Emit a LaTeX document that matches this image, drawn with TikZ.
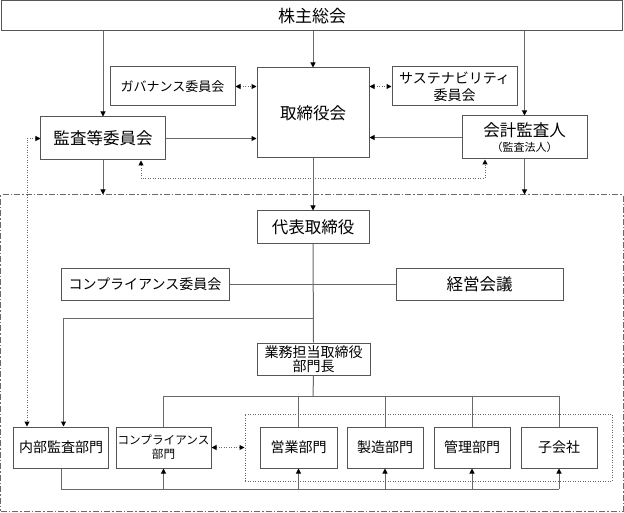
\documentclass[tikz,border=0pt]{standalone}
\usepackage{fontspec}
\setmainfont{Noto Sans CJK JP}
\usetikzlibrary{arrows.meta}
\definecolor{linecol}{RGB}{105,105,105}
\definecolor{boxcol}{RGB}{85,85,85}
\newcommand\fsL{\fontsize{16.5bp}{19bp}\selectfont}
\newcommand\fsM{\fontsize{14bp}{16bp}\selectfont}
\newcommand\fsS{\fontsize{11bp}{13bp}\selectfont}
\tikzset{
  box/.style={draw=boxcol, line width=1bp, fill=white, inner sep=0pt, align=center},
  ln/.style={draw=linecol, line width=1bp},
  arr/.style={ln, -{Triangle[length=5bp,width=5bp,color=black]}},
  dotln/.style={draw=linecol, line width=1bp, dash pattern=on 1bp off 1.5bp},
  dbarr/.style={dotln, {Triangle[length=5bp,width=5bp,color=black]}-{Triangle[length=5bp,width=5bp,color=black]}},
  dashdot/.style={draw=linecol, line width=1bp, dash pattern=on 6bp off 2bp on 1.5bp off 2bp},
}
\begin{document}
\begin{tikzpicture}[x=1bp,y=-1bp]
\useasboundingbox (0,0) rectangle (624,513);
% executive area (dash-dot)
\node[dashdot, minimum width=622bp, minimum height=316bp, inner sep=0pt] (exec) at (312,353) {};
% top
\node[box, minimum width=620bp, minimum height=30bp, font=\fontsize{17bp}{19bp}\selectfont] (kabu) at (312,16) {株主総会};
\node[box, minimum width=125bp, minimum height=39bp, font=\fontsize{13bp}{15bp}\selectfont] (gov) at (172.5,86.5) {ガバナンス委員会};
\node[box, minimum width=112bp, minimum height=90bp, font=\fsL] (tori) at (313,113) {取締役会};
\node[box, minimum width=125bp, minimum height=39bp, font=\fontsize{14bp}{17bp}\selectfont] (sus) at (454.5,86.5) {サステナビリティ\\委員会};
\node[box, minimum width=124bp, minimum height=43bp, font=\fsL] (kansa) at (103,138.5) {監査等委員会};
\node[box, minimum width=125bp, minimum height=43bp, font=\fontsize{16.5bp}{15.5bp}\selectfont] (kaikei) at (524.5,137.5) {会計監査人\\{\fsS （監査法人）}};
% executive
\node[box, minimum width=112bp, minimum height=32bp, font=\fsL] (daihyo) at (313,227) {代表取締役};
\node[box, minimum width=168bp, minimum height=32bp, font=\fsM] (comp) at (145,284) {コンプライアンス委員会};
\node[box, minimum width=167bp, minimum height=32bp, font=\fsL] (keiei) at (479.5,284) {経営会議};
\node[box, minimum width=113bp, minimum height=32bp, font=\fontsize{14bp}{14bp}\selectfont] (gyomu) at (313.5,359) {業務担当取締役\\部門長};
% group
\node[dotln, minimum width=367bp, minimum height=67bp, inner sep=0pt] (grp) at (428.5,447.5) {};
\node[box, minimum width=94bp, minimum height=41bp, font=\fsM] (naibu) at (61,447.5) {内部監査部門};
\node[box, minimum width=95bp, minimum height=41bp, font=\fontsize{11.6bp}{14bp}\selectfont] (compd) at (163.5,447.5) {コンプライアンス\\部門};
\node[box, minimum width=77bp, minimum height=41bp, font=\fsM] (eigyo) at (298.5,447.5) {営業部門};
\node[box, minimum width=76bp, minimum height=41bp, font=\fsM] (seizo) at (385,447.5) {製造部門};
\node[box, minimum width=76bp, minimum height=41bp, font=\fsM] (kanri) at (472,447.5) {管理部門};
\node[box, minimum width=76bp, minimum height=41bp, font=\fsM] (kogai) at (559,447.5) {子会社};
% coordinates
\coordinate (br1) at (313,318);
\coordinate (bus) at (313,396);
\coordinate (bus2) at (62,489);
% top connectors
\draw[arr] (kabu.south -| kansa.north) -- (kansa.north);
\draw[arr] (kabu.south -| tori.north) -- (tori.north);
\draw[arr] (kabu.south -| kaikei.north) -- (kaikei.north);
\draw[dbarr] (gov.east) -- (gov.east -| tori.west);
\draw[dbarr] (sus.west -| tori.east) -- (sus.west);
\draw[arr] (kansa.east) -- (kansa.east -| tori.west);
\draw[arr] (kaikei.west) -- (kaikei.west -| tori.east);
\draw[dbarr] ([xshift=38bp]kansa.south) -- ++(0,18) -| ([xshift=-39.5bp]kaikei.south);
\draw[arr] (kansa.south) -- (kansa.south |- exec.north);
\draw[arr] (kaikei.south) -- (kaikei.south |- exec.north);
\draw[dbarr] (kansa.west) -| ([xshift=-34bp]naibu.north);
% executive connectors
\draw[arr] (tori.south) -- (daihyo.north);
\draw[ln] (daihyo.south) -- (gyomu.north);
\draw[ln] (comp.east) -- (keiei.west);
\draw[arr] (br1) -| ([xshift=2.5bp]naibu.north);
\draw[ln] (gyomu.south) -- (bus);
\draw[ln] (compd.north |- bus) -- (kogai.north |- bus);
\draw[ln] (compd.north |- bus) -- (compd.north);
\draw[ln] (eigyo.north |- bus) -- (eigyo.north);
\draw[ln] (seizo.north |- bus) -- (seizo.north);
\draw[ln] (kanri.north |- bus) -- (kanri.north);
\draw[ln] (kogai.north |- bus) -- (kogai.north);
\draw[dbarr] (compd.east) -- (grp.west);
% bottom feedback
\draw[ln] (naibu.south) -- (naibu.south |- bus2) -- (kogai.south |- bus2);
\draw[arr] (compd.south |- bus2) -- (compd.south);
\draw[arr] (eigyo.south |- bus2) -- (eigyo.south);
\draw[arr] (seizo.south |- bus2) -- (seizo.south);
\draw[arr] (kanri.south |- bus2) -- (kanri.south);
\draw[arr] (kogai.south |- bus2) -- (kogai.south);
\end{tikzpicture}
\end{document}
